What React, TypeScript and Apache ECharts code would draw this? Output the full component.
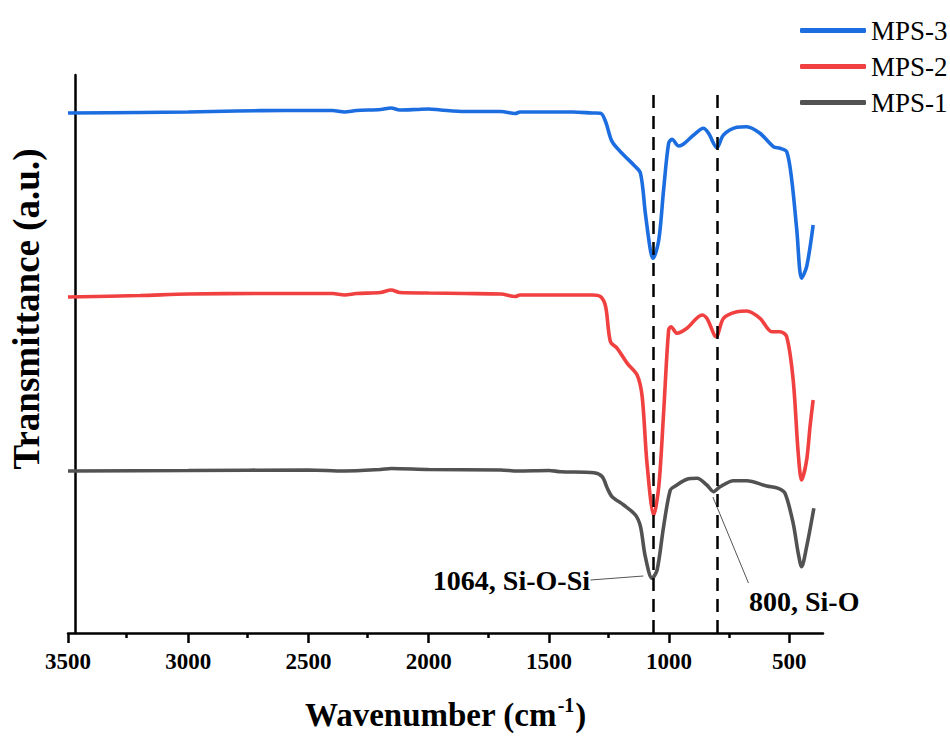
import React, { useEffect, useRef } from "react";
import * as echarts from "echarts";

// ---- data (wavenumber, cm-1) and transmittance (a.u., offset-stacked) ----
const mps3Wn = [3500, 3200, 3000, 2800, 2600, 2400, 2350, 2300, 2200, 2156, 2120, 2050, 2000, 1950, 1850, 1700, 1640, 1620, 1500, 1400, 1320, 1285, 1264, 1237, 1189, 1147, 1119, 1099, 1078, 1067, 1043, 1023, 1002, 988, 960, 940, 898, 857, 836, 801, 774, 718, 677, 622, 566, 539, 511, 490, 469, 449, 428, 401];
const mps3T = [520, 520.5, 521, 522, 522.5, 522.5, 521, 522.5, 523.5, 525, 523, 523.5, 524, 523, 521.5, 521.5, 519.5, 521, 521, 521, 520, 519.7, 511.3, 491.3, 478, 468, 459.7, 420, 383, 374.7, 393, 443, 489.7, 493.7, 487, 489, 498, 504.7, 499.7, 485.3, 498, 505.7, 506.3, 499.7, 486.3, 484.7, 481.3, 453, 403, 354.7, 366.3, 408];

const mps2Wn = [3500, 3200, 3000, 2700, 2400, 2350, 2300, 2200, 2156, 2120, 2000, 1850, 1700, 1640, 1620, 1500, 1400, 1320, 1285, 1264, 1244, 1216, 1174, 1133, 1112, 1092, 1064, 1043, 1023, 1002, 992, 967, 926, 863, 843, 804, 774, 718, 677, 622, 573, 539, 511, 484, 463, 449, 428, 414, 401];
const mps2T = [336, 337.5, 339, 339.5, 339.5, 338, 339.5, 340.5, 343, 340.5, 340, 339.5, 339, 336.5, 338, 338, 338, 338, 336.3, 326.3, 291.3, 284.7, 269.7, 258, 236.3, 169.7, 118, 146.3, 219.7, 303, 306.3, 299.7, 304.7, 318, 314.7, 296.3, 314.7, 321.3, 322, 314.7, 301.3, 301.3, 296.3, 253, 179.7, 153, 173, 206.3, 233];

const mps1Wn = [3500, 3000, 2500, 2350, 2200, 2156, 2000, 1700, 1630, 1500, 1451, 1313, 1278, 1257, 1237, 1189, 1140, 1119, 1099, 1071, 1050, 1023, 995, 974, 926, 884, 843, 815, 788, 732, 677, 594, 546, 518, 484, 463, 449, 428, 398];
const mps1T = [162, 162.5, 163, 162, 163.5, 164.5, 163.5, 163, 162, 162.5, 161.3, 160.3, 156.3, 144.7, 136.3, 128, 118, 106.3, 76.3, 54.7, 63, 106.3, 143, 147, 153.7, 154.7, 148, 141.3, 146.3, 152.3, 152.3, 147, 144.7, 139.7, 109.7, 79.7, 66.3, 86.3, 124.7];

const seriesNames = ["MPS-3", "MPS-2", "MPS-1"];
const xTickValues = [500, 1000, 1500, 2000, 2500, 3000, 3500];
const xMinorTickValues = [750, 1250, 1750, 2250, 2750, 3250];
const xMin = 360;
const xMax = 3500;
const yMin = 0;
const yMax = 558;

// reference peak markers
const peakLines = [1064, 800];
const peakLineTop = 538;
const annotations = [
  { name: "1064, Si-O-Si", text: [1327, 53], target: [1107, 57], side: "left" },
  { name: "800, Si-O", text: [670, 32], from: [670, 50], target: [818, 136], side: "right" },
];

const FONT = "'Times New Roman', 'Liberation Serif', serif";

const pair = (xs: number[], ys: number[]) => xs.map((x, i) => [x, ys[i]]);

export default function App() {
  const ref = useRef<HTMLDivElement>(null);
  useEffect(() => {
    if (!ref.current) return;
    const chart = echarts.init(ref.current, null, { renderer: "svg" });
    const colors: Record<string, string> = { "MPS-3": "#1c6ee0", "MPS-2": "#f04040", "MPS-1": "#525252" };
    const lineW = 3.6;
    const gridRect = { left: 66, right: 127, top: 75, bottom: 104 };
    chart.setOption({
      animation: false,
      backgroundColor: "#ffffff",
      textStyle: { fontFamily: FONT },
      grid: [gridRect, gridRect],
      legend: {
        data: seriesNames,
        orient: "vertical",
        left: 795,
        top: 12,
        icon: "roundRect",
        itemWidth: 66,
        itemHeight: 5,
        itemGap: 9,
        textStyle: { fontFamily: FONT, fontSize: 27, lineHeight: 27, color: "#000" },
      },
      xAxis: [
        {
          type: "value",
          gridIndex: 0,
          min: xMin,
          max: xMax,
          inverse: true,
          name: "{a|Wavenumber (cm}{s|-1}{a|)}",
          nameLocation: "middle",
          nameGap: 62,
          nameTextStyle: {
            rich: {
              a: { fontFamily: FONT, fontSize: 33, fontWeight: "bold", color: "#000", lineHeight: 36, verticalAlign: "bottom" },
              s: { fontFamily: FONT, fontSize: 20, fontWeight: "bold", color: "#000", lineHeight: 36, verticalAlign: "top", padding: [0, 1, 12, 1] },
            },
          },
          axisLine: { show: true, onZero: false, lineStyle: { color: "#000", width: 2.5 } },
          axisTick: { show: true, customValues: xTickValues, length: 10, lineStyle: { color: "#000", width: 2.5 } },
          axisLabel: {
            show: true,
            customValues: xTickValues,
            formatter: (v: number) => String(v),
            margin: 17,
            fontFamily: FONT,
            fontSize: 23,
            fontWeight: "bold",
            color: "#000",
          },
          splitLine: { show: false },
        },
        {
          type: "value",
          gridIndex: 1,
          min: xMin,
          max: xMax,
          inverse: true,
          axisLine: { show: false },
          axisTick: { show: true, customValues: xMinorTickValues, length: 5, lineStyle: { color: "#000", width: 2.5 } },
          axisLabel: { show: false },
          splitLine: { show: false },
        },
      ],
      yAxis: [
        {
          type: "value",
          gridIndex: 0,
          min: yMin,
          max: yMax,
          offset: -7,
          name: "Transmittance (a.u.)",
          nameLocation: "middle",
          nameGap: 30,
          nameTextStyle: { fontFamily: FONT, fontSize: 37, fontWeight: "bold", color: "#000", padding: [0, 0, 0, 90] },
          axisLine: { show: true, onZero: false, lineStyle: { color: "#000", width: 2.5 } },
          axisTick: { show: false },
          axisLabel: { show: false },
          splitLine: { show: false },
        },
        {
          type: "value",
          gridIndex: 1,
          min: yMin,
          max: yMax,
          axisLine: { show: false },
          axisTick: { show: false },
          axisLabel: { show: false },
          splitLine: { show: false },
        },
      ],
      series: [
        {
          name: "MPS-1",
          type: "line",
          xAxisIndex: 0,
          yAxisIndex: 0,
          data: pair(mps1Wn, mps1T),
          smooth: 0.3,
          showSymbol: false,
          symbol: "none",
          color: colors["MPS-1"],
          lineStyle: { color: colors["MPS-1"], width: lineW },
          markLine: {
            silent: true,
            symbol: ["none", "none"],
            label: { show: false },
            lineStyle: { color: "#555", width: 1, type: "solid" },
            data: [
              [{ coord: annotations[0].text }, { coord: annotations[0].target }],
              [{ coord: annotations[1].target }, { coord: annotations[1].from }],
            ],
          },
          markPoint: {
            silent: true,
            symbol: "circle",
            symbolSize: 1,
            itemStyle: { color: "rgba(0,0,0,0)" },
            label: { show: true, formatter: "{b}", fontFamily: FONT, fontSize: 28, fontWeight: "bold", color: "#000", distance: 0 },
            data: annotations.map((a) => ({ name: a.name, coord: a.text, label: { position: a.side } })),
          },
        },
        {
          name: "MPS-2",
          type: "line",
          xAxisIndex: 0,
          yAxisIndex: 0,
          data: pair(mps2Wn, mps2T),
          smooth: 0.3,
          showSymbol: false,
          symbol: "none",
          color: colors["MPS-2"],
          lineStyle: { color: colors["MPS-2"], width: lineW },
        },
        {
          name: "MPS-3",
          type: "line",
          xAxisIndex: 0,
          yAxisIndex: 0,
          data: pair(mps3Wn, mps3T),
          smooth: 0.3,
          showSymbol: false,
          symbol: "none",
          color: colors["MPS-3"],
          lineStyle: { color: colors["MPS-3"], width: lineW },
          markLine: {
            silent: true,
            symbol: ["none", "none"],
            label: { show: false },
            lineStyle: { color: "#000", width: 2.5, type: [13, 8] },
            data: peakLines.map((v) => [{ coord: [v, peakLineTop] }, { coord: [v, yMin] }]),
          },
        },
      ],
    });
    return () => chart.dispose();
  }, []);
  return <div ref={ref} style={{ position: "fixed", left: 0, top: 0, width: 950, height: 737, background: "#fff" }} />;
}
